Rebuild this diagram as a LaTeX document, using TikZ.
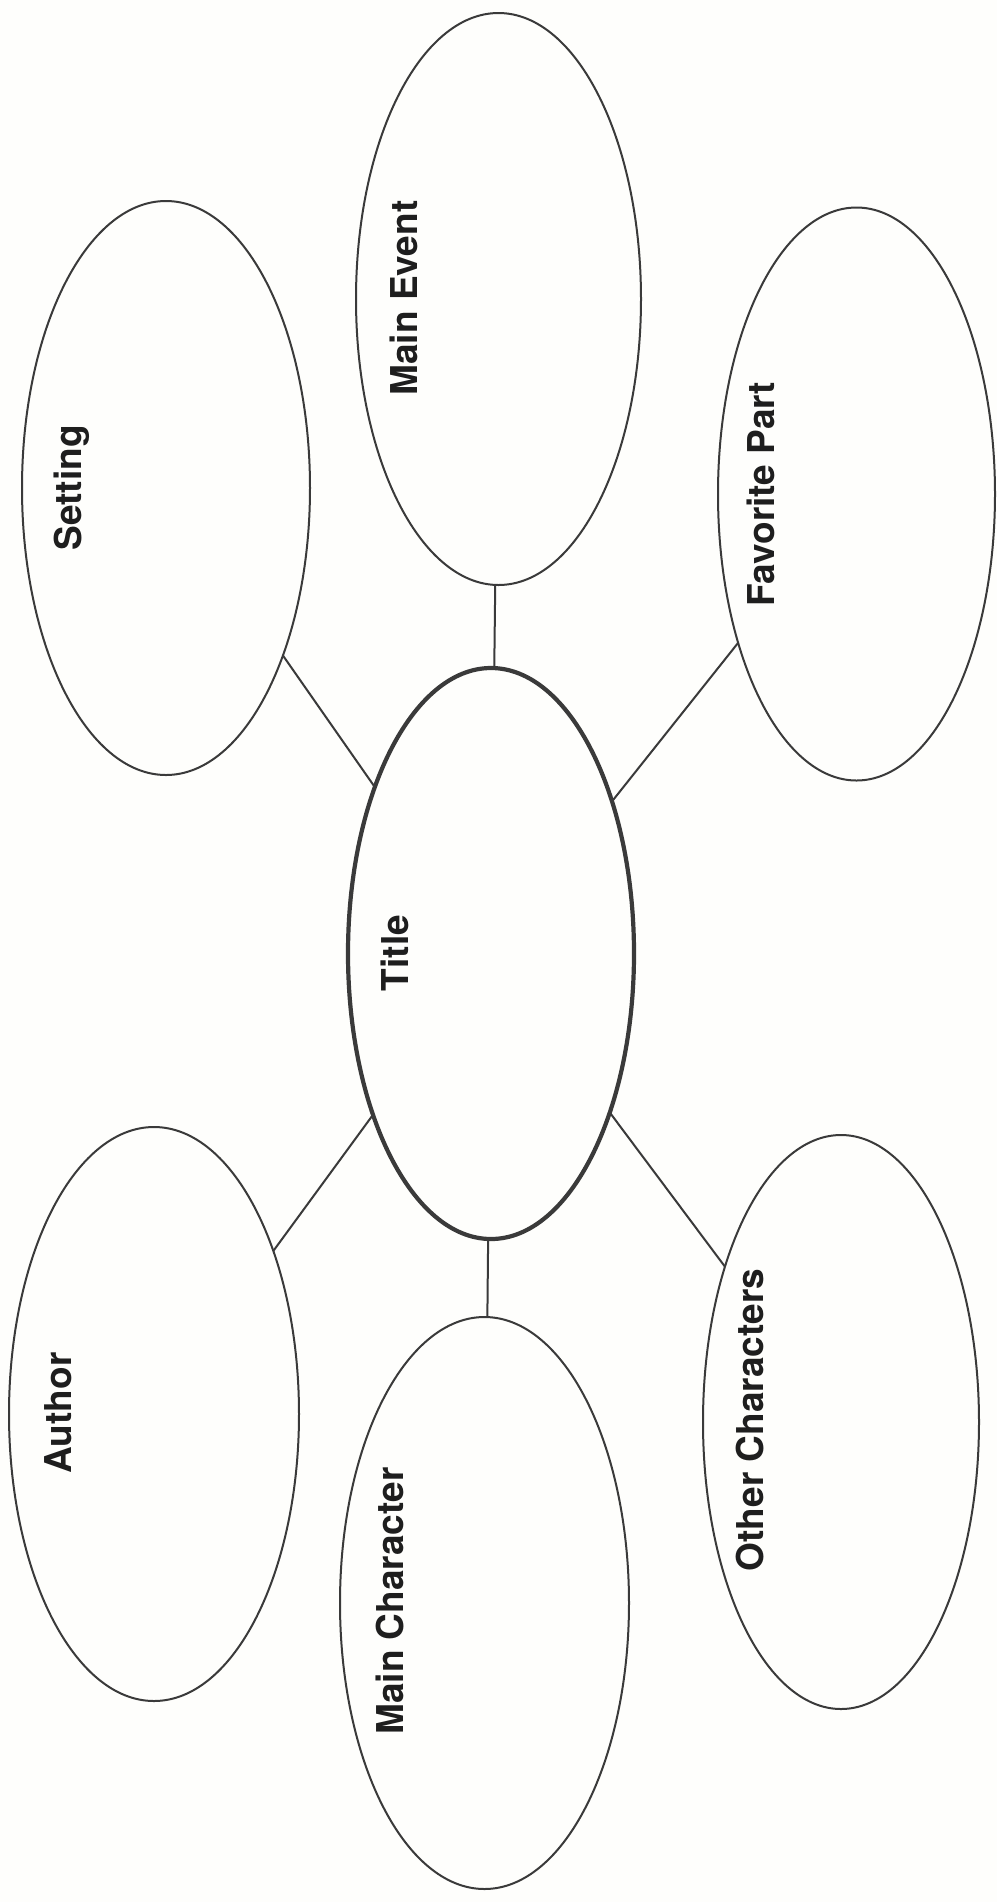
\documentclass[tikz,border=0pt]{standalone}
\usepackage{fontspec}
\setmainfont{TeX Gyre Heros}
\usetikzlibrary{shapes.geometric}
\definecolor{ink}{HTML}{3A3A3A}
\definecolor{txt}{HTML}{1E1E1E}
\definecolor{paper}{HTML}{FEFEFC}
\tikzset{
  bubble/.style={ellipse, draw=ink, line width=1pt, inner sep=0pt, outer sep=0pt},
  titlebubble/.style={bubble, line width=2.1pt},
  label text/.style={rotate=90, text=txt, font=\fontsize{18.5}{22}\selectfont\bfseries, inner sep=0pt},
  link/.style={draw=ink, line width=1pt}
}
\begin{document}
\begin{tikzpicture}[x=0.5pt, y=-0.5pt]
  \fill[paper] (0,0) rectangle (997,1902);
  \useasboundingbox (0,0) rectangle (997,1902);
  % bubbles
  \node[bubble, minimum width=144pt, minimum height=287pt] (setting) at (166,488) {};
  \node[bubble, minimum width=142.5pt, minimum height=286pt] (event) at (498.5,299) {};
  \node[bubble, minimum width=138.5pt, minimum height=286.5pt] (favorite) at (856.5,494) {};
  \node[titlebubble, minimum width=143pt, minimum height=285.5pt] (title) at (491,953.5) {};
  \node[bubble, minimum width=145pt, minimum height=287pt] (author) at (154,1414) {};
  \node[bubble, minimum width=144.5pt, minimum height=286pt] (mainchar) at (484.5,1603) {};
  \node[bubble, minimum width=138pt, minimum height=287pt] (others) at (841,1422) {};
  % connectors
  \draw[link] (title) -- (setting);
  \draw[link] (title) -- (event);
  \draw[link] (title) -- (favorite);
  \draw[link] (title) -- (author);
  \draw[link] (title) -- (mainchar);
  \draw[link] (title) -- (others);
  % labels
  \node[label text] (tsetting) at (72,488) {Setting};
  \node[label text] (tevent) at (404,298) {Main Event};
  \node[label text] (tfavorite) at (761,494) {Favorite Part};
  \node[label text] (ttitle) at (395,953) {Title};
  \node[label text] (tauthor) at (58,1413) {Author};
  \node[label text] (tmainchar) at (390,1601) {Main Character};
  \node[label text] (tothers) at (750,1420) {Other Characters};
\end{tikzpicture}
\end{document}
